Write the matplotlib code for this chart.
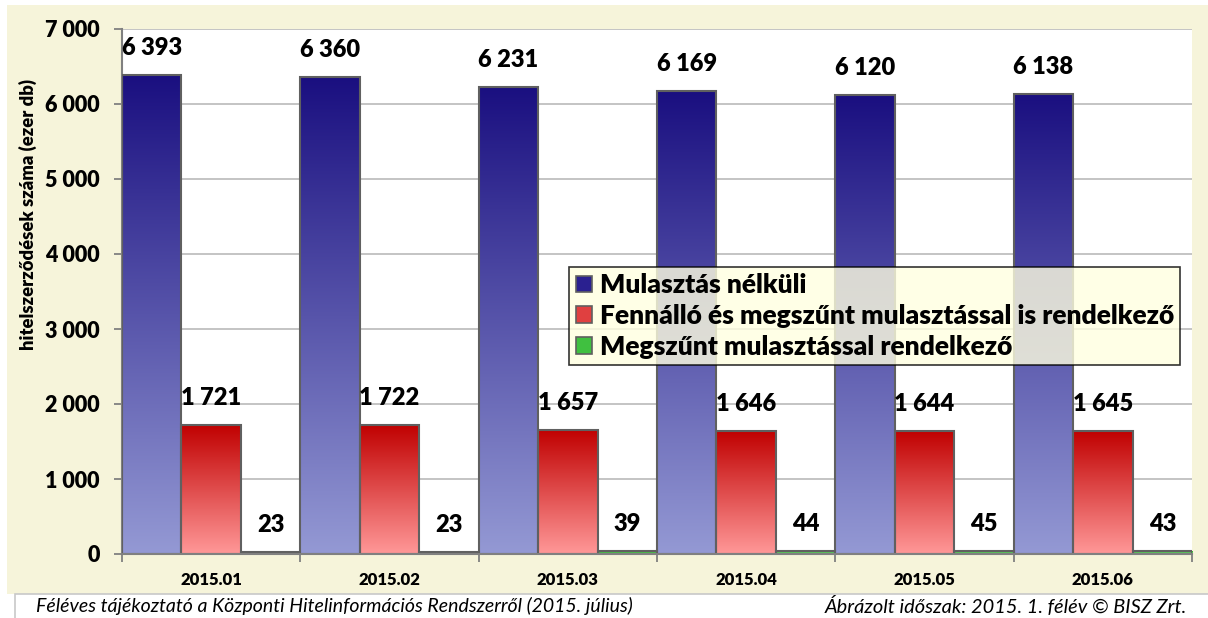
import numpy as np
import matplotlib
matplotlib.use("Agg")
import matplotlib.pyplot as plt
import matplotlib.colors as mcolors
from matplotlib.patches import Rectangle, Patch

plt.rcParams['font.family'] = ['Lato', 'DejaVu Sans']

categories = ["2015.01", "2015.02", "2015.03", "2015.04", "2015.05", "2015.06"]
mulasztas_nelkuli = [6393, 6360, 6231, 6169, 6120, 6138]
fennallo = [1721, 1722, 1657, 1646, 1644, 1645]
megszunt = [23, 23, 39, 44, 45, 43]
series_names = ["Mulasztás nélküli",
                "Fennálló és megszűnt mulasztással is rendelkező",
                "Megszűnt mulasztással rendelkező"]
yticks = [0, 1000, 2000, 3000, 4000, 5000, 6000, 7000]
ylabel = "hitelszerződések száma (ezer db)"
footer_left = "Féléves tájékoztató a Központi Hitelinformációs Rendszerről (2015. július)"
footer_right = "Ábrázolt időszak: 2015. 1. félév © BISZ Zrt."

grads = [("#1A0F80", "#9499D4"), ("#C00000", "#FF9898"), ("#00A000", "#90E090")]
legend_cols = ["#2A2090", "#E04040", "#40C040"]
BW = "heavy"

W, H = 1208, 618
fig = plt.figure(figsize=(W / 100, H / 100), dpi=100)
fig.patch.set_facecolor("white")
bg = Rectangle((7 / W, (H - 594) / H), (W - 7) / W, 589 / H,
               transform=fig.transFigure, facecolor="#F6F4DA",
               edgecolor="none", zorder=-10)
fig.add_artist(bg)
foot_box = Rectangle((15 / W, -0.05), (W + 10) / W, (H - 594) / H + 0.05,
                     transform=fig.transFigure, facecolor="white",
                     edgecolor="#C8C8C8", linewidth=1.2, zorder=-9)
fig.add_artist(foot_box)

ax = fig.add_axes([122 / W, (H - 554) / H, (1192 - 122) / W, (554 - 29) / H])
ax.set_zorder(1)
ax.set_facecolor("white")

x = np.arange(len(categories))
bw = 1 / 3
all_series = [mulasztas_nelkuli, fennallo, megszunt]


def fill_gradient(bar, top, bottom):
    n = 256
    t = np.linspace(0, 1, n)[:, None, None]
    c0 = np.array(mcolors.to_rgb(bottom))[None, None, :]
    c1 = np.array(mcolors.to_rgb(top))[None, None, :]
    img = c0 + (c1 - c0) * t
    x0, y0 = bar.get_x(), bar.get_y()
    im = ax.imshow(img, extent=[x0, x0 + bar.get_width(), y0, y0 + bar.get_height()],
                   origin="lower", aspect="auto", interpolation="bilinear", zorder=2)
    im.set_clip_path(bar)


for k, vals in enumerate(all_series):
    bars = ax.bar(x + (k - 1) * bw, vals, width=bw, facecolor="none",
                  edgecolor="#606060", linewidth=1.5, zorder=3)
    for b, v in zip(bars, vals):
        fill_gradient(b, grads[k][0], grads[k][1])
        ax.annotate(f"{v:,}".replace(",", " "), (b.get_x() + b.get_width() / 2, v),
                    xytext=(0, 27), textcoords="offset pixels", ha="center",
                    va="center", fontsize=17, fontweight=BW, zorder=5)

ax.set_xlim(-0.5, len(categories) - 0.5)
ax.set_ylim(0, 7000)
ax.set_yticks(yticks)
ax.set_yticklabels([f"{v:,}".replace(",", " ") for v in yticks], fontsize=15.5,
                   fontweight=BW)
ax.yaxis.grid(True, color="#BFBFBF", linewidth=1.3, zorder=1)
ax.set_axisbelow(True)

ax.set_xticks(np.arange(len(categories) + 1) - 0.5)
ax.set_xticklabels([])
ax.set_xticks(x, minor=True)
ax.set_xticklabels(categories, minor=True, fontsize=12, fontweight=BW)
ax.tick_params(axis="x", which="minor", length=0, pad=13)
ax.tick_params(axis="x", which="major", length=6, color="#808080", width=1.3)
ax.tick_params(axis="y", length=6, color="#808080", width=1.3, pad=10)

for s in ["top", "right"]:
    ax.spines[s].set_visible(False)
for s in ["left", "bottom"]:
    ax.spines[s].set_color("#808080")
    ax.spines[s].set_linewidth(1.5)
ax.spines["bottom"].set_zorder(4)

fig.text(28 / W, (H - 215) / H, ylabel, rotation=90, ha="center", va="center",
         fontsize=13.2, fontweight=BW)

handles = [Patch(facecolor=c, edgecolor="#606060", linewidth=1.2) for c in legend_cols]
leg = ax.legend(handles, series_names, loc="upper left", bbox_to_anchor=(0.418, 0.547),
                prop={"size": 19, "weight": BW}, frameon=True, fancybox=False,
                handlelength=0.6, handleheight=0.6, handletextpad=0.3,
                labelspacing=0.25, borderpad=0.25, borderaxespad=0)
leg.get_frame().set_facecolor("#FFFFE0")
leg.get_frame().set_alpha(0.8)
leg.get_frame().set_edgecolor("black")
leg.get_frame().set_linewidth(1.2)
leg.set_zorder(6)

fig.text(36 / W, (H - 606) / H, footer_left, fontsize=14, style="italic",
         ha="left", va="center")
fig.text(1187 / W, (H - 606) / H, footer_right, fontsize=14.4, style="italic",
         ha="right", va="center")

fig.savefig("out.png", dpi=100, facecolor=fig.get_facecolor())
